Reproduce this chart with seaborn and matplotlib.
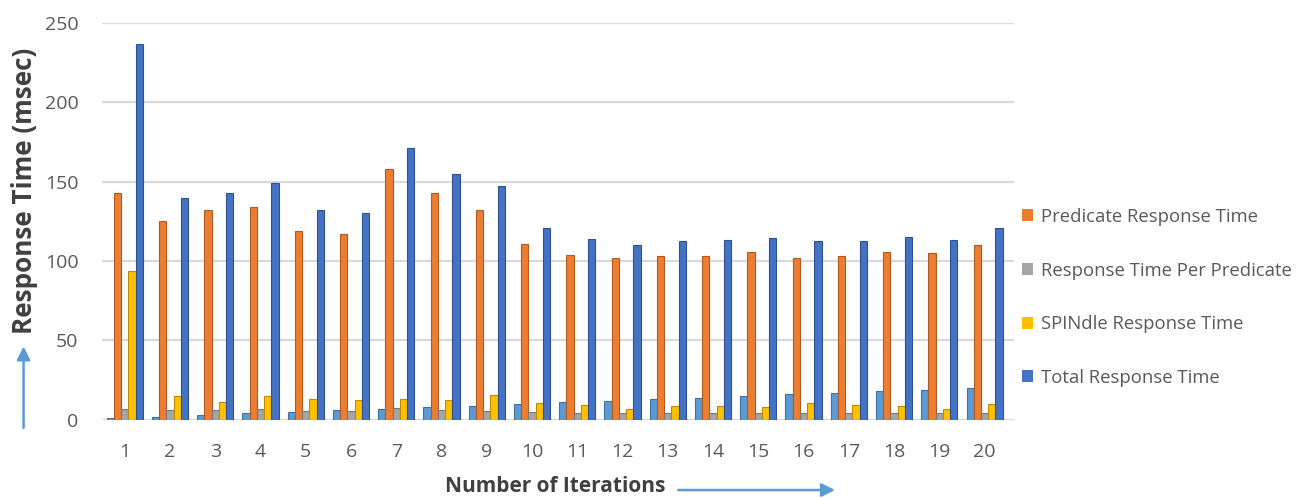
import matplotlib
matplotlib.use("Agg")
import matplotlib.pyplot as plt
import seaborn as sns
import pandas as pd
from matplotlib.patches import Patch, FancyArrowPatch

iterations = list(range(1, 21))
iteration_count = [1, 2, 3, 4, 5, 6, 7, 8, 9, 10, 11, 12, 13, 14, 15, 16, 17, 18, 19, 20]
predicate_rt = [143, 125, 132, 134, 119, 117, 158, 143, 132, 111, 104, 102, 103, 103, 106, 102, 103, 106, 105, 110]
per_predicate_rt = [7, 6.3, 6.3, 6.7, 5.8, 5.8, 7.3, 6.3, 5.7, 4.8, 4.4, 4.2, 4.3, 4.3, 4.3, 4.3, 4.3, 4.3, 4.3, 4.4]
spindle_rt = [94, 15, 11.5, 15, 13, 12.5, 13, 12.5, 15.5, 10.5, 9.5, 7, 9, 9, 8, 10.7, 9.4, 8.6, 6.7, 10]
total_rt = [237, 140, 143, 149, 132, 130, 171, 155, 147, 121, 113.6, 110, 112.5, 113, 114.5, 112.6, 112.8, 115, 113, 121]

series_names = ["Iteration", "Predicate Response Time", "Response Time Per Predicate",
                "SPINdle Response Time", "Total Response Time"]
series_values = [iteration_count, predicate_rt, per_predicate_rt, spindle_rt, total_rt]
palette = ["#5B9BD5", "#ED7D31", "#A5A5A5", "#FFC000", "#4472C4"]
edge_palette = ["#41719C", "#AE5A21", "#787878", "#BC8C00", "#2F528F"]

rows = []
for name, vals in zip(series_names, series_values):
    for it, v in zip(iterations, vals):
        rows.append({"Iteration": str(it), "Series": name, "Value": v})
df = pd.DataFrame(rows)

sns.set_theme(style="white")
plt.rcParams["font.family"] = ["Open Sans", "DejaVu Sans"]

fig = plt.figure(figsize=(13.09, 4.98), dpi=100)
ax = fig.add_axes([0.078, 0.157, 0.697, 0.797])

sns.barplot(data=df, x="Iteration", y="Value", hue="Series", hue_order=series_names,
            palette=palette, order=[str(i) for i in iterations], width=0.8,
            ax=ax, legend=False, saturation=1)

# darker outline on each bar, by series
for cont, ec in zip(ax.containers, edge_palette):
    for bar in cont:
        bar.set_edgecolor(ec)
        bar.set_linewidth(0.8)

ax.set_ylim(0, 250)
ax.set_xlim(-0.5, 19.66)
ax.set_yticks([0, 50, 100, 150, 200, 250])
ax.yaxis.grid(True, color="#D9D9D9", linewidth=1.6)
ax.set_axisbelow(True)
for s in ax.spines.values():
    s.set_visible(False)
ax.tick_params(axis="both", length=0, labelsize=14, colors="#595959")
ax.tick_params(axis="x", pad=17)
ax.tick_params(axis="y", pad=17)
ax.set_xlabel("")
ax.set_ylabel("")

# legend for the four timing series
handles = [Patch(facecolor=c, edgecolor="none") for c in palette[1:]]
fig.legend(handles, series_names[1:], loc="upper left",
           bbox_to_anchor=(0.768, 0.616), frameon=False, fontsize=13.3,
           labelspacing=1.93, handlelength=0.6, handleheight=0.6,
           handletextpad=0.45, labelcolor="#595959")

# axis titles with direction arrows
fig.text(0.424, 0.024, "Number of Iterations", fontsize=15, fontweight="bold",
         color="#404040", ha="center", va="center")
fig.text(0.019, 0.617, "Response Time (msec)", fontsize=18.8, fontweight="bold",
         color="#404040", ha="center", va="center", rotation=90)
fig.add_artist(FancyArrowPatch(
    (0.516, 0.016), (0.64, 0.016), transform=fig.transFigure,
    arrowstyle="-|>,head_length=8,head_width=4", color="#5B9BD5", linewidth=1.8))
fig.add_artist(FancyArrowPatch(
    (0.018, 0.135), (0.018, 0.31), transform=fig.transFigure,
    arrowstyle="-|>,head_length=8,head_width=4", color="#5B9BD5", linewidth=1.8))

fig.savefig("out.png", dpi=100)
